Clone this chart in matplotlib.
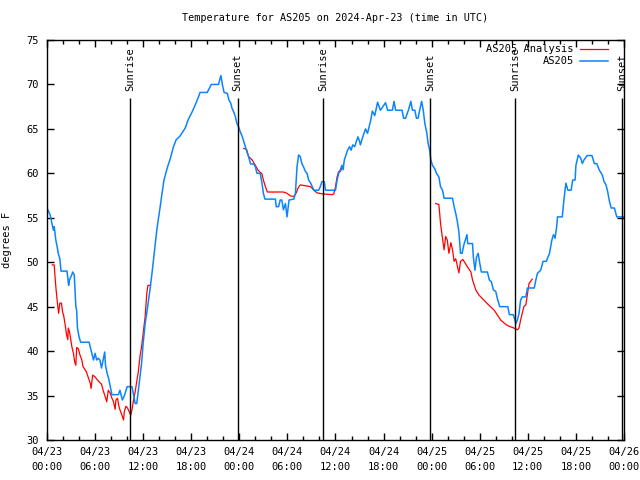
import pandas as pd
import matplotlib
matplotlib.use("Agg")
import matplotlib.pyplot as plt
import matplotlib.dates as mdates

# hours after 2024-04-23 00:00 UTC, temperature in F
obs_hours = [0.0, 0.4, 0.7, 0.8, 0.9, 1.1, 1.3, 1.4, 1.6, 1.75, 2.5, 2.7, 2.8, 3.1, 3.2, 3.4, 3.6, 3.7, 3.8, 4.0,
             4.2, 5.25, 5.5, 5.8, 6.0, 6.2, 6.4, 6.6, 6.8, 7.0, 7.2, 7.3, 7.5, 7.7, 7.9, 8.1, 8.9, 9.1, 9.4, 9.7,
             10.0, 10.6, 10.8, 11.0, 11.2, 11.4, 11.6, 11.8, 12.0, 12.25, 12.5, 12.7, 12.9, 13.1, 13.3, 13.5, 13.7,
             13.9, 14.1, 14.3, 14.6, 15.0, 15.4, 15.75, 16.1, 16.6, 17.25, 17.6, 18.1, 18.5, 18.9, 19.1, 20.0, 20.5,
             21.4, 21.7, 21.9, 22.1, 22.5, 22.7, 22.9, 23.1, 23.3, 23.5, 23.7, 23.9, 24.1, 24.3, 24.5, 24.75, 24.95,
             25.15, 25.4, 25.8, 26.0, 26.2, 26.6, 26.8, 27.0, 27.2, 28.5, 28.6, 28.9, 29.1, 29.3, 29.5, 29.75, 29.95,
             30.2, 30.8, 31.0, 31.2, 31.4, 31.6, 31.8, 32.0, 32.25, 32.45, 32.65, 32.9, 33.1, 33.3, 33.9, 34.1, 34.3,
             34.6, 34.75, 36.0, 36.2, 36.4, 36.6, 36.8, 36.95, 37.1, 37.3, 37.5, 37.75, 37.95, 38.15, 38.4, 38.6,
             38.8, 39.0, 39.1, 39.4, 39.75, 40.0, 40.4, 40.6, 40.9, 41.25, 41.6, 42.25, 42.5, 43.1, 43.3, 43.5, 44.3,
             44.5, 44.75, 44.95, 45.1, 45.4, 45.6, 45.9, 46.1, 46.3, 46.5, 46.75, 46.95, 47.15, 47.4, 47.55, 47.75,
             47.9, 48.1, 48.4, 48.6, 48.9, 49.1, 49.35, 49.55, 50.6, 50.8, 51.0, 51.2, 51.4, 51.6, 51.8, 52.0, 52.4,
             52.5, 53.1, 53.2, 53.4, 53.6, 53.8, 54.0, 54.2, 54.95, 55.2, 55.45, 55.7, 56.0, 56.2, 56.5, 57.5, 57.7,
             58.2, 58.5, 58.7, 58.9, 59.1, 59.3, 59.75, 59.95, 60.8, 61.0, 61.2, 61.6, 61.9, 62.3, 62.7, 63.0, 63.2,
             63.4, 63.6, 63.7, 64.3, 64.5, 64.75, 65.0, 65.4, 65.6, 65.9, 66.0, 66.3, 66.6, 66.8, 67.0, 67.4, 68.0,
             68.3, 68.6, 68.9, 69.3, 69.5, 69.75, 69.95, 70.15, 70.4, 70.8, 71.1, 71.9]
obs_temp = [56.1, 55.3, 54.0, 53.6, 54.0, 52.5, 51.6, 51.0, 50.4, 49.0, 49.0, 47.4, 48.0, 48.6, 48.9, 48.6, 45.0, 44.6,
            42.6, 41.6, 41.0, 41.0, 40.1, 39.0, 39.75, 39.0, 39.2, 39.0, 38.1, 39.0, 39.9, 38.4, 37.5, 36.9, 36.0,
            35.1, 35.1, 35.6, 34.5, 35.1, 36.0, 36.0, 35.1, 34.1, 34.1, 35.6, 37.1, 38.6, 40.9, 43.1, 44.6, 45.9,
            47.25, 48.75, 50.4, 52.1, 53.6, 54.9, 56.1, 57.4, 59.25, 60.6, 61.7, 62.9, 63.75, 64.2, 65.1, 66.0, 66.9,
            67.7, 68.6, 69.1, 69.1, 70.0, 70.0, 71.0, 69.9, 69.1, 69.0, 68.25, 67.95, 67.3, 66.9, 66.4, 65.6, 65.25,
            64.7, 64.3, 63.75, 63.0, 62.4, 61.9, 61.05, 61.05, 60.75, 60.0, 60.0, 59.06, 57.75, 57.1, 57.1, 56.25,
            56.25, 57.0, 57.0, 55.9, 56.6, 55.1, 57.0, 57.1, 57.75, 60.75, 62.06, 61.9, 61.1, 60.75, 60.2, 60.0,
            59.25, 58.9, 58.5, 58.1, 58.1, 58.5, 59.06, 59.06, 58.1, 58.1, 59.25, 60.0, 60.4, 60.9, 60.4, 61.5,
            62.06, 62.6, 63.0, 62.6, 63.2, 63.0, 63.6, 64.1, 63.6, 63.2, 64.1, 65.0, 64.5, 66.0, 67.0, 66.5, 68.0,
            67.1, 67.95, 67.1, 67.1, 68.1, 67.1, 67.1, 66.2, 66.2, 66.75, 67.1, 68.1, 67.1, 67.1, 66.2, 66.2, 67.1,
            68.1, 67.1, 65.6, 64.5, 63.4, 62.6, 61.5, 60.9, 60.5, 60.0, 59.6, 58.5, 58.1, 57.2, 57.2, 56.25, 55.5,
            54.6, 53.4, 51.0, 51.0, 51.9, 53.1, 52.1, 52.1, 50.6, 49.1, 50.6, 51.0, 49.9, 48.9, 48.9, 48.0, 47.8,
            46.9, 46.7, 45.9, 45.0, 45.0, 44.1, 44.1, 43.1, 43.5, 44.25, 45.75, 46.1, 46.1, 47.1, 47.1, 48.0, 48.75,
            49.1, 50.1, 50.1, 51.0, 52.5, 53.1, 52.7, 54.0, 55.1, 55.1, 57.0, 58.9, 58.1, 58.1, 59.25, 59.25, 60.9,
            62.06, 61.7, 61.1, 61.5, 62.0, 62.0, 61.1, 61.1, 60.4, 59.8, 59.1, 58.7, 58.0, 57.0, 56.1, 56.1, 55.1,
            55.1]

# analysis runs (three night-time pieces)
ana1_hours = [0.65, 0.9, 1.0, 1.1, 1.3, 1.45, 1.6, 1.8, 1.95, 2.1, 2.3, 2.45, 2.6, 2.65, 2.8, 2.95, 3.1, 3.3, 3.45,
              3.6, 3.7, 3.9, 4.1, 4.35, 4.5, 4.9, 5.2, 5.4, 5.5, 5.7, 6.0, 6.3, 6.6, 6.8, 7.0, 7.25, 7.45, 7.65,
              7.9, 8.1, 8.3, 8.5, 8.6, 8.8, 8.95, 9.1, 9.35, 9.55, 9.65, 9.85, 10.05, 10.25, 10.45, 10.6, 10.8,
              11.0, 11.2, 11.4, 11.6, 11.8, 12.0, 12.25, 12.45, 12.6, 12.9]
ana1_temp = [49.7, 49.7, 48.4, 47.25, 45.4, 44.25, 45.4, 45.4, 44.4, 43.9, 42.75, 41.8, 41.3, 42.6, 42.2, 41.4, 40.5,
             39.75, 38.8, 38.4, 40.4, 40.3, 39.6, 39.0, 38.25, 37.7, 36.9, 36.4, 35.8, 37.3, 37.1, 36.75, 36.45,
             36.3, 35.6, 34.9, 34.3, 35.6, 35.25, 34.7, 34.3, 33.45, 34.5, 34.7, 33.9, 33.4, 32.8, 32.25, 33.2,
             33.8, 33.6, 33.2, 32.8, 33.4, 34.5, 35.4, 36.6, 37.7, 39.4, 40.5, 42.0, 43.9, 46.5, 47.4, 47.4]
ana2_hours = [24.55, 24.9, 25.15, 25.6, 26.0, 26.3, 26.6, 26.8, 27.0, 27.25, 27.5, 29.5, 29.95, 30.4, 30.8, 31.1,
              31.3, 31.6, 32.25, 32.9, 33.3, 33.7, 34.3, 35.6, 35.8, 36.0, 36.2, 36.4, 36.6, 36.8]
ana2_temp = [62.8, 62.7, 61.9, 61.5, 60.9, 60.4, 60.1, 60.0, 59.25, 58.5, 57.9, 57.9, 57.75, 57.45, 57.4, 57.8, 58.3,
             58.7, 58.6, 58.5, 58.1, 57.8, 57.7, 57.6, 57.7, 58.5, 59.6, 60.2, 60.2, 60.6]
ana3_hours = [48.5, 48.9, 49.0, 49.1, 49.35, 49.55, 49.75, 49.95, 50.15, 50.4, 50.6, 50.8, 51.0, 51.4, 51.6, 51.9,
              52.45, 52.9, 53.1, 53.5, 53.9, 54.5, 55.1, 55.8, 56.25, 56.6, 57.25, 57.65, 58.25, 58.7, 58.9, 59.1,
              59.5, 59.75, 60.15, 60.55]
ana3_temp = [56.6, 56.5, 55.5, 54.4, 52.7, 51.4, 52.9, 52.5, 51.0, 52.2, 51.4, 50.1, 50.4, 48.8, 50.1, 50.3, 49.5,
             48.9, 48.0, 46.9, 46.3, 45.75, 45.2, 44.6, 44.0, 43.5, 43.0, 42.8, 42.6, 42.4, 42.6, 43.5, 45.0, 45.2,
             47.6, 48.1]

sun_times = ["2024-04-23 10:25", "2024-04-23 23:47", "2024-04-24 10:25",
             "2024-04-24 23:47", "2024-04-25 10:25", "2024-04-25 23:47"]
sun_labels = ["Sunrise", "Sunset", "Sunrise", "Sunset", "Sunrise", "Sunset"]

start = pd.Timestamp("2024-04-23 00:00")


def to_time(hours):
    return start + pd.to_timedelta(hours, unit="h")


plt.rcParams['font.family'] = 'DejaVu Sans Mono'
plt.rcParams['font.size'] = 7.3

fig = plt.figure(figsize=(6.4, 4.8), dpi=100)
ax = fig.add_axes([47 / 640, 40 / 480, 577 / 640, 400 / 480])

red = '#ff0000'
blue = '#0a84ff'
first = True
for h, t in [(ana1_hours, ana1_temp), (ana2_hours, ana2_temp), (ana3_hours, ana3_temp)]:
    ax.plot(to_time(h), t, color=red, lw=0.9, label='AS205 Analysis' if first else None)
    first = False
ax.plot(to_time(obs_hours), obs_temp, color=blue, lw=1.1, label='AS205')

for s, lab in zip(sun_times, sun_labels):
    ts = pd.Timestamp(s)
    ax.vlines(ts, 30, 68.5, color='black', lw=1.0)
    ax.text(ts, 69.3, lab, rotation=90, ha='center', va='bottom', clip_on=False, fontsize=7.5)

ax.set_xlim(start, start + pd.Timedelta(hours=72))
ax.set_ylim(30, 75)
ax.set_yticks(range(30, 76, 5))
ax.xaxis.set_major_locator(mdates.HourLocator(byhour=[0, 6, 12, 18]))
ax.xaxis.set_minor_locator(mdates.HourLocator(interval=2))
ax.xaxis.set_major_formatter(mdates.DateFormatter('%m/%d\n%H:%M'))
ax.tick_params(which='both', direction='in', top=True, right=True, width=1.0, labelsize=7.5)
ax.tick_params(which='major', length=5)
ax.tick_params(axis='x', which='major', pad=5)
ax.tick_params(axis='y', which='major', pad=6)
ax.tick_params(which='minor', length=3)
for lbl in ax.get_xticklabels():
    lbl.set_linespacing(1.6)
for sp in ax.spines.values():
    sp.set_linewidth(1.0)

ax.set_ylabel('degrees F', labelpad=10, fontsize=7.5)
ax.set_title('Temperature for AS205 on 2024-Apr-23 (time in UTC)', pad=14, fontsize=7.3)

ax.legend(loc='upper right', frameon=False, markerfirst=False, handlelength=2.7, fontsize=7.5,
          borderaxespad=0, labelspacing=0.2, handletextpad=0.6, bbox_to_anchor=(0.98, 1.0))

fig.savefig('out.png', dpi=100)
